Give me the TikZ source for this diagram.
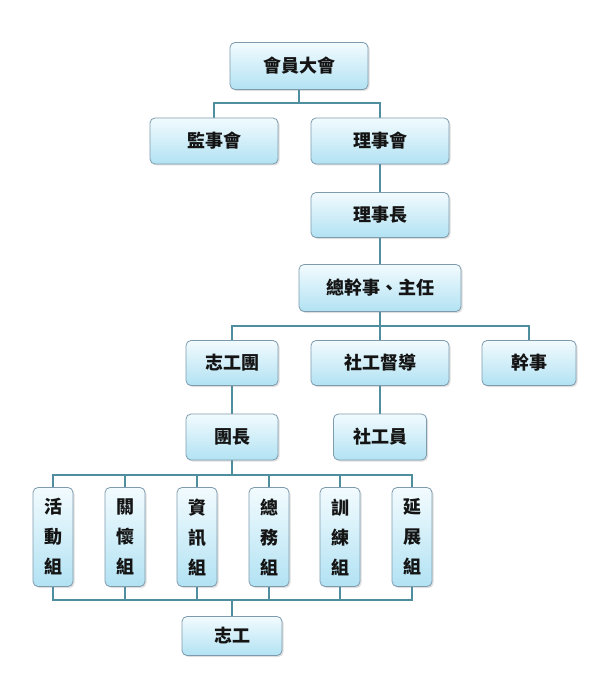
\documentclass[tikz,border=0pt]{standalone}
\usepackage{fontspec}
\newfontfamily\cjk{Noto Sans CJK TC}
\usetikzlibrary{shadows,backgrounds}
\definecolor{lineC}{HTML}{4E8E9F}
\definecolor{boxB}{HTML}{7E9BAE}
\definecolor{boxT}{HTML}{F2FBFE}
\definecolor{boxD}{HTML}{B2E2F3}
\definecolor{txt}{HTML}{141414}
\begin{document}
\begin{tikzpicture}[x=1pt,y=-1pt,
  box/.style={draw=boxB,line width=0.8pt,rounded corners=5pt,top color=boxT,bottom color=boxD,
    drop shadow={opacity=0.25,shadow xshift=1.5pt,shadow yshift=-1.5pt},
    inner sep=0pt,text=txt,font=\cjk\bfseries\fontsize{18}{20}\selectfont},
  vbox/.style={box,minimum width=40pt,minimum height=99pt,align=center,
    font=\cjk\bfseries\fontsize{18}{30}\selectfont},
  conn/.style={draw=lineC,line width=2.6pt}]
\useasboundingbox (0,0) rectangle (598,679);
\node[box,minimum width=138pt,minimum height=47pt] (top) at (299,66) {會員大會};
\node[box,minimum width=128pt,minimum height=46pt] (jianshi) at (214,141) {監事會};
\node[box,minimum width=138pt,minimum height=46pt] (lishihui) at (380,141) {理事會};
\node[box,minimum width=138pt,minimum height=45pt] (lishizhang) at (380,215) {理事長};
\node[box,minimum width=162pt,minimum height=47pt] (zong) at (380,288) {總幹事、主任};
\node[box,minimum width=92pt,minimum height=45pt] (zgt) at (232,363) {志工團};
\node[box,minimum width=138pt,minimum height=45pt] (sgdd) at (380,363) {社工督導};
\node[box,minimum width=94pt,minimum height=45pt] (ganshi) at (529,363) {幹事};
\node[box,minimum width=92pt,minimum height=46pt] (tuanzhang) at (232,437) {團長};
\node[box,minimum width=93pt,minimum height=46pt] (sgy) at (380,437) {社工員};
\node[vbox] (g1) at (53,537) {活\\動\\組};
\node[vbox] (g2) at (125,537) {關\\懷\\組};
\node[vbox] (g3) at (197,537) {資\\訊\\組};
\node[vbox] (g4) at (269,537) {總\\務\\組};
\node[vbox] (g5) at (340,537) {訓\\練\\組};
\node[vbox] (g6) at (412,537) {延\\展\\組};
\node[box,minimum width=100pt,minimum height=39pt] (vol) at (232,636) {志工};
\coordinate (j1) at (299,103);
\coordinate (j2) at (380,326);
\coordinate (j3) at (232,475);
\coordinate (j4) at (232,600);
\begin{scope}[on background layer]
\fill[white] (0,0) rectangle (598,679);
\draw[conn] (top.south) -- (j1);
\draw[conn] (jianshi.north) |- (j1) -| (lishihui.north);
\draw[conn] (lishihui.south) -- (lishizhang.north);
\draw[conn] (lishizhang.south) -- (zong.north);
\draw[conn] (zong.south) -- (j2);
\draw[conn] (zgt.north) |- (j2) -| (ganshi.north);
\draw[conn] (j2) -- (sgdd.north);
\draw[conn] (zgt.south) -- (tuanzhang.north);
\draw[conn] (sgdd.south) -- (sgy.north);
\draw[conn] (tuanzhang.south) -- (j3);
\draw[conn] (g1.north) |- (j3) -| (g6.north);
\foreach \g in {g2,g3,g4,g5} \draw[conn] (\g.north) |- (j3);
\draw[conn] (g1.south) |- (j4) -| (g6.south);
\foreach \g in {g2,g3,g4,g5} \draw[conn] (\g.south) |- (j4);
\draw[conn] (j4) -- (vol.north);
\end{scope}
\end{tikzpicture}
\end{document}
